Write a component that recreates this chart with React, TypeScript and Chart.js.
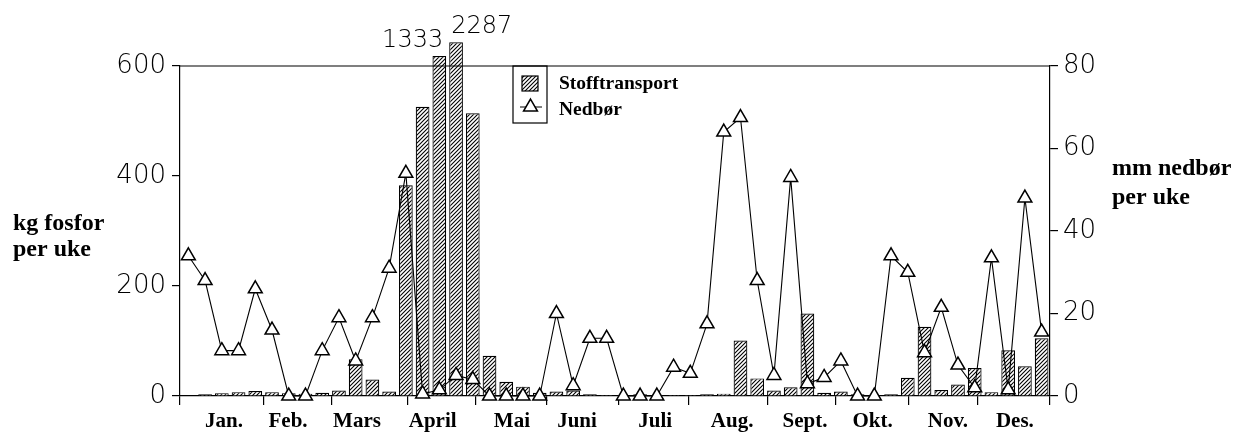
import React, { useEffect, useRef } from 'react';
import { Chart, registerables } from 'chart.js';

Chart.register(...registerables);

// ---- data ----
const weeks = [
  '1', '2', '3', '4', '5', '6', '7', '8', '9', '10', '11', '12', '13',
  '14', '15', '16', '17', '18', '19', '20', '21', '22', '23', '24', '25', '26',
  '27', '28', '29', '30', '31', '32', '33', '34', '35', '36', '37', '38', '39',
  '40', '41', '42', '43', '44', '45', '46', '47', '48', '49', '50', '51', '52',
];

// kg fosfor per uke (Stofftransport)
const stofftransport = [
  1, 3, 5, 7, 9, 7, 5, 4, 6, 10, 67, 30, 8,
  383, 526, 1333, 2287, 514, 73, 26, 17, 6, 8, 10, 3, 2,
  2, 3, 2, 2, 2, 3, 4, 101, 32, 10, 16, 150, 6, 8,
  3, 2, 3, 33, 126, 11, 21, 51, 7, 83, 54, 105,
];

// heights (kg) at which the two off-scale bars are drawn, broken above the frame
const brokenBarHeights = [618, 643];

// mm nedbør per uke (Nedbør)
const nedbor = [
  34, 28, 11, 11, 26, 16, 0, 0, 11, 19, 8.5, 19, 31,
  54, 0.5, 1.5, 5, 4, 0, 0, 0, 0, 20, 2.5, 14, 14,
  0, 0, 0, 7, 5.5, 17.5, 64, 67.5, 28, 5, 53, 3, 4.5, 8.5,
  0, 0, 34, 30, 10.5, 21.5, 7.5, 2, 33.5, 1.5, 48, 15.5,
];

// month axis (in week units)
const monthNames = ['Jan.', 'Feb.', 'Mars', 'April', 'Mai', 'Juni', 'Juli', 'Aug.', 'Sept.', 'Okt.', 'Nov.', 'Des.'];
const monthBoundaryWeeks = [0, 5.02, 9.09, 13.63, 17.69, 21.94, 26.2, 30.42, 35.15, 39.2, 43.57, 47.7, 52];
const monthLabelWeeks = [2.63, 6.46, 10.58, 15.1, 19.84, 23.73, 28.4, 33.0, 37.36, 41.4, 45.9, 49.9];

const leftTicks = [0, 200, 400, 600];
const rightTicks = [0, 20, 40, 60, 80];

const leftTitle = ['kg fosfor', 'per uke'];
const rightTitle = ['mm nedbør', 'per uke'];
const legendLabels = ['Stofftransport', 'Nedbør'];

const SERIF = '"Liberation Serif", "Times New Roman", serif';
const SANS = '"DejaVu Sans", sans-serif';

function makeHatch(): CanvasPattern | string {
  const s = 4;
  const c = document.createElement('canvas');
  c.width = s;
  c.height = s;
  const g = c.getContext('2d');
  if (!g) return '#888';
  g.fillStyle = '#fff';
  g.fillRect(0, 0, s, s);
  g.strokeStyle = '#000';
  g.lineWidth = 1.1;
  g.beginPath();
  g.moveTo(0, s);
  g.lineTo(s, 0);
  g.moveTo(-1, 1);
  g.lineTo(1, -1);
  g.moveTo(s - 1, s + 1);
  g.lineTo(s + 1, s - 1);
  g.stroke();
  const p = g.createPattern(c, 'repeat');
  return p || '#888';
}

function drawTriangle(ctx: CanvasRenderingContext2D, x: number, y: number, r: number) {
  ctx.beginPath();
  ctx.moveTo(x, y - r);
  ctx.lineTo(x + r * Math.sin((2 * Math.PI) / 3), y - r * Math.cos((2 * Math.PI) / 3));
  ctx.lineTo(x + r * Math.sin((4 * Math.PI) / 3), y - r * Math.cos((4 * Math.PI) / 3));
  ctx.closePath();
  ctx.fillStyle = '#fff';
  ctx.fill();
  ctx.lineWidth = 1.5;
  ctx.strokeStyle = '#000';
  ctx.stroke();
}

export default function App() {
  const ref = useRef<HTMLCanvasElement>(null);

  useEffect(() => {
    if (!ref.current) return;
    const hatch = makeHatch();

    let k = 0;
    const shownTransport = stofftransport.map((v) => (v > 600 ? brokenBarHeights[k++] : v));

    const decorations = {
      id: 'decorations',
      afterDatasetsDraw(chart: any) {
        const { ctx, chartArea } = chart;
        ctx.save();
        // top frame line
        ctx.strokeStyle = '#000';
        ctx.lineWidth = 1.2;
        ctx.beginPath();
        ctx.moveTo(chartArea.left, chartArea.top);
        ctx.lineTo(chartArea.right, chartArea.top);
        ctx.stroke();

        // axis titles
        ctx.fillStyle = '#000';
        ctx.font = `bold 24px ${SERIF}`;
        ctx.textAlign = 'left';
        ctx.textBaseline = 'alphabetic';
        ctx.fillText(leftTitle[0], 13, 230);
        ctx.fillText(leftTitle[1], 13, 256);
        ctx.fillText(rightTitle[0], chartArea.right + 62, 175);
        ctx.fillText(rightTitle[1], chartArea.right + 62, 204);

        // labels on the broken bars
        const meta = chart.getDatasetMeta(1);
        ctx.font = `200 24px ${SANS}`;
        let n = 0;
        stofftransport.forEach((v, i) => {
          if (v <= 600) return;
          const el = meta.data[i];
          const { x, y, width } = el.getProps(['x', 'y', 'width'], true);
          if (n === 0) {
            ctx.textAlign = 'right';
            ctx.fillText(String(v), x + width / 2 - 3, y - 9);
          } else {
            ctx.textAlign = 'left';
            ctx.fillText(String(v), x - width / 2 + 2, y - 9);
          }
          n++;
        });

        // legend
        const lx = chartArea.left + 333;
        const ly = chartArea.top;
        ctx.lineWidth = 1.2;
        ctx.strokeStyle = '#000';
        ctx.strokeRect(lx, ly, 34, 57);
        ctx.fillStyle = hatch as any;
        ctx.fillRect(lx + 9, ly + 10, 16, 15);
        ctx.strokeRect(lx + 9, ly + 10, 16, 15);
        ctx.beginPath();
        ctx.moveTo(lx + 7, ly + 41);
        ctx.lineTo(lx + 29, ly + 41);
        ctx.lineWidth = 1;
        ctx.stroke();
        drawTriangle(ctx, lx + 17.5, ly + 41, 8);
        ctx.fillStyle = '#000';
        ctx.font = `bold 19.5px ${SERIF}`;
        ctx.textAlign = 'left';
        ctx.fillText(legendLabels[0], lx + 46, ly + 22.5);
        ctx.fillText(legendLabels[1], lx + 46, ly + 49);
        ctx.restore();
      },
    };

    const chart = new Chart(ref.current, {
      type: 'bar',
      data: {
        labels: weeks,
        datasets: [
          {
            type: 'line',
            label: legendLabels[1],
            data: nedbor,
            yAxisID: 'y2',
            xAxisID: 'x',
            borderColor: '#000',
            borderWidth: 1.1,
            pointStyle: 'triangle',
            pointRadius: 8,
            pointBackgroundColor: '#fff',
            pointBorderColor: '#000',
            pointBorderWidth: 1.5,
            tension: 0,
            clip: false,
            order: 0,
          } as any,
          {
            type: 'bar',
            label: legendLabels[0],
            data: shownTransport,
            yAxisID: 'y',
            xAxisID: 'x',
            backgroundColor: hatch as any,
            borderColor: '#000',
            borderWidth: 1.2,
            barPercentage: 0.82,
            categoryPercentage: 1,
            clip: false,
            order: 1,
          } as any,
        ],
      },
      options: {
        responsive: false,
        maintainAspectRatio: false,
        animation: false,
        devicePixelRatio: 1,
        layout: { padding: { top: 66, left: 0, right: 0, bottom: 0 } },
        plugins: {
          legend: { display: false },
          tooltip: { enabled: false },
        },
        scales: {
          x: {
            type: 'category',
            display: false,
            offset: true,
          },
          xm: {
            type: 'linear',
            position: 'bottom',
            min: 0,
            max: 52,
            offset: false,
            afterBuildTicks: (scale: any) => {
              scale.ticks = [...monthBoundaryWeeks, ...monthLabelWeeks]
                .sort((a, b) => a - b)
                .map((v) => ({ value: v }));
            },
            afterFit: (scale: any) => {
              scale.height = 49;
            },
            border: { display: true, color: '#000', width: 1.2 },
            grid: {
              offset: false,
              drawOnChartArea: false,
              drawTicks: true,
              tickLength: 9,
              lineWidth: 1.2,
              tickColor: (c: any) =>
                c.tick && monthBoundaryWeeks.includes(c.tick.value) ? '#000' : 'rgba(0,0,0,0)',
            },
            ticks: {
              autoSkip: false,
              maxRotation: 0,
              minRotation: 0,
              padding: 4,
              color: '#000',
              font: { family: SERIF, size: 21, weight: 'bold' },
              callback: (v: any) => {
                const i = monthLabelWeeks.indexOf(Number(v));
                return i >= 0 ? monthNames[i] : '';
              },
            },
          },
          y: {
            type: 'linear',
            position: 'left',
            min: 0,
            max: 600,
            afterBuildTicks: (scale: any) => {
              scale.ticks = leftTicks.map((v) => ({ value: v }));
            },
            afterFit: (scale: any) => {
              scale.width = 180;
            },
            border: { display: true, color: '#000', width: 1.2 },
            grid: { drawOnChartArea: false, tickLength: 8, tickColor: '#000', lineWidth: 1.2 },
            ticks: {
              padding: 6,
              color: '#000',
              font: { family: SANS, size: 26, weight: 200 as any },
            },
          },
          y2: {
            type: 'linear',
            position: 'right',
            min: 0,
            max: 80,
            afterBuildTicks: (scale: any) => {
              scale.ticks = rightTicks.map((v) => ({ value: v }));
            },
            afterFit: (scale: any) => {
              scale.width = 195;
            },
            border: { display: true, color: '#000', width: 1.2 },
            grid: { drawOnChartArea: false, tickLength: 8, tickColor: '#000', lineWidth: 1.2 },
            ticks: {
              padding: 5,
              color: '#000',
              font: { family: SANS, size: 26, weight: 200 as any },
            },
          },
        },
      } as any,
      plugins: [decorations],
    });

    return () => chart.destroy();
  }, []);

  return (
    <div style={{ position: 'absolute', left: 0, top: 0, width: 1245, height: 445, background: '#fff' }}>
      <canvas ref={ref} width={1245} height={445} style={{ display: 'block', width: 1245, height: 445 }} />
    </div>
  );
}
